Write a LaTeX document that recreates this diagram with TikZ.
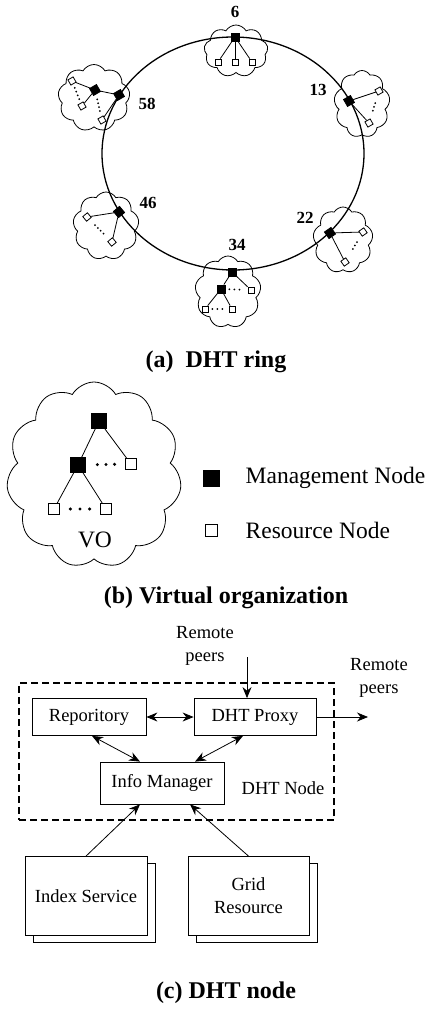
\documentclass[tikz,border=0pt]{standalone}
\usepackage{fontspec}
\setmainfont{Liberation Serif}
\usetikzlibrary{calc,shapes.symbols,shadows,arrows.meta}

\tikzset{
  mgmt/.style={draw, fill=black, minimum size=8pt, inner sep=0pt},
  res/.style={draw, fill=white, minimum size=6pt, inner sep=0pt},
  blob/.style={draw, cloud, cloud puffs=9, cloud puff arc=120, cloud ignores aspect, inner sep=0pt},
  dotrow/.style={line width=2pt, line cap=round, dash pattern=on 0pt off 4pt, shorten <=8pt, shorten >=8pt},
  bigdots/.style={line width=3.4pt, line cap=round, dash pattern=on 0pt off 8.6pt},
  ringlbl/.style={font=\fontsize{17}{17}\selectfont\bfseries},
  caption/.style={font=\fontsize{24}{24}\selectfont\bfseries},
  big/.style={font=\fontsize{23.5}{26}\selectfont},
  box/.style={draw, fill=white, inner sep=0pt, font=\fontsize{18.5}{23}\selectfont, align=center},
  txt/.style={font=\fontsize{18.5}{23}\selectfont, align=center},
  arr/.style={-{Stealth[length=11pt,width=9pt]}},
  darr/.style={{Stealth[length=11pt,width=9pt]}-{Stealth[length=11pt,width=9pt]}}
}

\begin{document}
\begin{tikzpicture}[x=1pt, y=-1pt, line width=0.8pt]
  \useasboundingbox (0,0) rectangle (426,1009);

  % (a) DHT ring
  \node (c6)  at (236,51)  [blob, minimum width=64pt, minimum height=52pt] {};
  \node (c13) at (362,104) [blob, minimum width=56pt, minimum height=67pt] {};
  \node (c22) at (343,240) [blob, minimum width=60pt, minimum height=66pt] {};
  \node (c34) at (228,292) [blob, minimum width=66pt, minimum height=72pt] {};
  \node (c46) at (106,226) [blob, minimum width=66pt, minimum height=68pt] {};
  \node (c58) at (94,98)   [blob, minimum width=72pt, minimum height=67pt] {};
  \draw[line width=1.3pt] (233,153.5) ellipse [x radius=131pt, y radius=116.5pt];

  \node (m6) at (235,37) [mgmt] {};
  \foreach \x/\n in {218/a, 235/b, 252/c}
           {
             \node (r6\n) at (\x,62) [res] {};
             \draw (m6) to (r6\n);
           }

  \node (m13) at (349,101) [mgmt, rotate=30] {};
  \node (r13a) at (379,91) [res, rotate=30] {};
  \node (r13b) at (369,123) [res, rotate=30] {};
  \draw (r13a) to (m13) to (r13b);
  \draw[dotrow] (r13a) -- (r13b);

  \node (m22) at (330,233) [mgmt, rotate=35] {};
  \node (r22a) at (363,232) [res, rotate=35] {};
  \node (r22b) at (345,262) [res, rotate=35] {};
  \draw (r22a) to (m22) to (r22b);
  \draw[dotrow] (r22a) -- (r22b);

  \node (m34) at (232,272) [mgmt] {};
  \node (k34) at (221,289) [mgmt] {};
  \node (r34a) at (251,290) [res] {};
  \node (r34b) at (205,309) [res] {};
  \node (r34c) at (232,309) [res] {};
  \draw (k34) to (m34) to (r34a);
  \draw (r34b) to (k34) to (r34c);
  \draw[dotrow, dash pattern=on 0pt off 5pt, shorten <=4pt, shorten >=4pt] (k34) -- (r34a);
  \draw[dotrow, dash pattern=on 0pt off 5pt, shorten <=4pt, shorten >=4pt] (r34b) -- (r34c);

  \node (m46) at (119,212) [mgmt, rotate=40] {};
  \node (r46a) at (87,217) [res, rotate=40] {};
  \node (r46b) at (112,242) [res, rotate=40] {};
  \draw (r46a) to (m46) to (r46b);
  \draw[dotrow] (r46a) -- (r46b);

  \node (m58) at (119,95) [mgmt, rotate=30] {};
  \node (k58) at (95,90) [mgmt, rotate=30] {};
  \node (r58a) at (72,81) [res, rotate=30] {};
  \node (r58b) at (82,106) [res, rotate=30] {};
  \node (r58c) at (102,120) [res, rotate=30] {};
  \draw (r58a) to (k58) to (m58) to (r58c);
  \draw (k58) to (r58b);
  \draw[dotrow, shorten <=4pt, shorten >=4pt] (r58a) -- (r58b);
  \draw[dotrow, shorten <=5pt, shorten >=5pt] (k58) -- (r58c);

  \draw (235,12) node[ringlbl] {6};
  \draw (318,90) node[ringlbl] {13};
  \draw (305,218) node[ringlbl] {22};
  \draw (237,245) node[ringlbl] {34};
  \draw (148,203) node[ringlbl] {46};
  \draw (147,104) node[ringlbl] {58};
  \node (capa) at (216,362) [caption] {(a)\ \ DHT ring};

  % (b) Virtual organization
  \node (vo) at (94,475) [blob, cloud puffs=11, minimum width=175pt, minimum height=186pt] {};
  \node (vroot) at (99,421) [mgmt, minimum size=15pt] {};
  \node (vmid) at (78,465) [mgmt, minimum size=15pt] {};
  \node (vres) at (131,464) [res, minimum size=11pt] {};
  \node (vres1) at (54,509) [res, minimum size=11pt] {};
  \node (vres2) at (106,509) [res, minimum size=11pt] {};
  \draw (vmid) to (vroot) to (vres);
  \draw (vres1) to (vmid) to (vres2);
  \draw[bigdots, shorten <=11.5pt, shorten >=10.5pt] (vmid) -- (vres);
  \draw[bigdots, dash pattern=on 0pt off 9.6pt, shorten <=10.5pt, shorten >=10.5pt] (vres1) -- (vres2);
  \draw (95,540) node[big] {VO};

  \node (kmgmt) at (211,478) [mgmt, minimum size=16pt] {};
  \node (kres) at (211,530) [res, minimum size=12pt] {};
  \node (tmgmt) at (242,478) [big, anchor=west] {Management Node};
  \node (tres) at (242,530) [big, anchor=west] {Resource Node};
  \node (capb) at (226,598) [caption] {(b) Virtual organization};

  % (c) DHT node
  \node (dht) at (176.5,751.5) [draw, line width=1.4pt, dash pattern=on 7pt off 4pt, minimum width=315pt, minimum height=137pt] {};
  \node (rep) at (89,717) [box, minimum width=114pt, minimum height=37pt] {Reporitory};
  \node (px) at (255,717) [box, minimum width=122pt, minimum height=37pt] {DHT Proxy};
  \node (info) at (162,783) [box, minimum width=124pt, minimum height=42pt] {Info Manager};
  \draw (283,788) node[txt] {DHT Node};
  \node (idx) at (86,896) [box, minimum width=122pt, minimum height=79pt,
        copy shadow={shadow xshift=8pt, shadow yshift=-7pt}] {Index Service};
  \node (grid) at (248.5,896) [box, minimum width=121pt, minimum height=79pt,
        copy shadow={shadow xshift=8pt, shadow yshift=-7pt}] {Grid\\Resource};

  \node (peer1) at (205,646) [txt] {Remote\\peers};
  \node (peer2) at (379,678) [txt] {Remote\\peers};
  \coordinate (in1) at (247,657);
  \coordinate (out1) at (368,717);

  \draw[arr] (in1) -- (in1 |- px.north);
  \draw[arr] (px.east) -- (out1);
  \draw[darr] (rep.east) -- (px.west);
  \draw[darr] ($(rep.south)+(3,0)$) -- ($(info.north)+(-22,0)$);
  \draw[darr] ($(px.south)+(-12,0)$) -- ($(info.north)+(33,0)$);
  \draw[arr] (idx.north) -- ($(info.south)+(-22,0)$);
  \draw[arr] (grid.north) -- ($(info.south)+(28,0)$);
  \node (capc) at (226,993) [caption] {(c) DHT node};
\end{tikzpicture}
\end{document}
